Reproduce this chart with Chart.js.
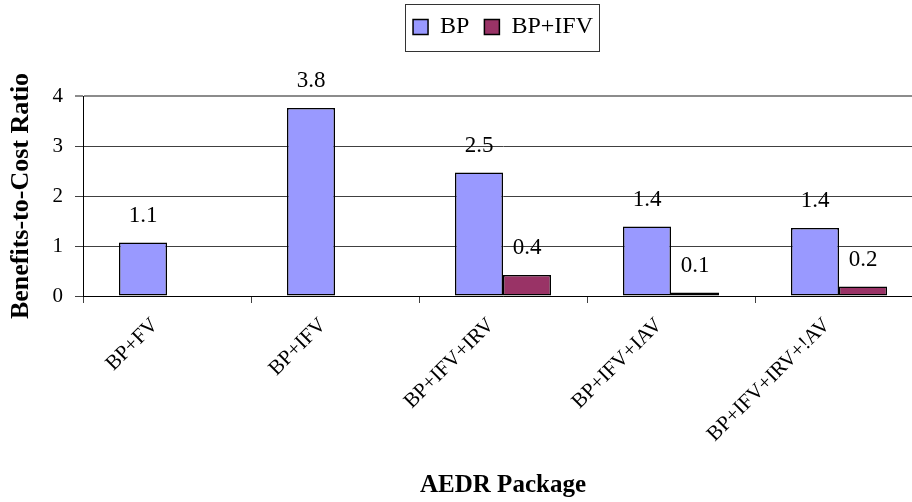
<!DOCTYPE html>
<html>
<head>
<meta charset="utf-8">
<title>Benefits-to-Cost Ratio by AEDR Package</title>
<script src="https://cdn.jsdelivr.net/npm/chart.js@4/dist/chart.umd.min.js"></script>
<style>
  html, body { margin: 0; padding: 0; background: #ffffff; overflow: hidden; }
  #wrap { position: relative; width: 923px; height: 502px; }
</style>
</head>
<body>
<div id="wrap"><canvas id="chart"></canvas></div>
<script>
// AEDR packages along the x axis
const packages = ['BP+FV', 'BP+IFV', 'BP+IFV+IRV', 'BP+IFV+IAV', 'BP+IFV+IRV+!AV'];

// Benefits-to-cost ratios for each baseline
const bpRatios = [1.07, 3.76, 2.47, 1.39, 1.36];
const bpIfvRatios = [null, null, 0.42, 0.07, 0.19];

// Value axis ticks
const ratioTicks = [0, 1, 2, 3, 4];

const seriesNames = ['BP', 'BP+IFV'];

const SERIF = "'Liberation Serif', 'Times New Roman', serif";

// Writes each bar's ratio above it, rounded to one decimal
const valueLabels = {
  id: 'valueLabels',
  afterDatasetsDraw(chart) {
    const ctx = chart.ctx;
    ctx.save();
    ctx.font = '23px ' + SERIF;
    ctx.fillStyle = '#000000';
    ctx.textAlign = 'center';
    ctx.textBaseline = 'middle';
    chart.data.datasets.forEach((ds, di) => {
      const meta = chart.getDatasetMeta(di);
      meta.data.forEach((bar, i) => {
        const v = ds.data[i];
        if (v === null || v === undefined) return;
        ctx.fillText(v.toFixed(1), bar.x, bar.y - 27);
      });
    });
    ctx.restore();
  }
};

// Frames the legend entries with a thin box
const legendFrame = {
  id: 'legendFrame',
  afterDraw(chart) {
    const boxes = chart.legend && chart.legend.legendHitBoxes;
    if (!boxes || !boxes.length) return;
    let left = Infinity, right = -Infinity, mid = 0;
    boxes.forEach(b => {
      left = Math.min(left, b.left);
      right = Math.max(right, b.left + b.width);
      mid = b.top + b.height / 2;
    });
    const ctx = chart.ctx;
    ctx.save();
    ctx.strokeStyle = '#333333';
    ctx.lineWidth = 1;
    ctx.strokeRect(Math.round(left - 8) + 0.5, Math.round(mid - 23.5) + 0.5,
                   Math.round(right - left + 14), 47);
    ctx.restore();
  }
};

new Chart(document.getElementById('chart'), {
  type: 'bar',
  data: {
    labels: packages,
    datasets: [
      {
        label: seriesNames[0],
        data: bpRatios,
        backgroundColor: '#9999FF',
        borderColor: '#000000',
        borderWidth: 1.5,
        borderSkipped: false,
        xAxisID: 'x',
        yAxisID: 'y'
      },
      {
        label: seriesNames[1],
        data: bpIfvRatios,
        backgroundColor: '#993366',
        borderColor: '#000000',
        borderWidth: 1.5,
        borderSkipped: false,
        xAxisID: 'x',
        yAxisID: 'y'
      }
    ]
  },
  options: {
    responsive: true,
    maintainAspectRatio: false,
    animation: false,
    datasets: {
      bar: { categoryPercentage: 96 / 168, barPercentage: 1 }
    },
    layout: { padding: 0 },
    plugins: {
      tooltip: { enabled: false },
      legend: {
        display: true,
        position: 'top',
        fullSize: false,
        labels: {
          font: { family: SERIF, size: 24 },
          color: '#000000',
          boxWidth: 15,
          boxHeight: 15,
          padding: 15
        }
      }
    },
    scales: {
      gap: {
        type: 'linear',
        position: 'top',
        display: true,
        grid: { display: false, drawTicks: false },
        border: { display: false },
        ticks: { display: false },
        afterFit(scale) { scale.height = 47; }
      },
      x: {
        type: 'category',
        position: 'bottom',
        offset: true,
        grid: {
          offset: true,
          drawOnChartArea: false,
          drawTicks: true,
          tickLength: 7,
          color: '#404040',
          lineWidth: 1
        },
        border: { display: true, color: '#000000', width: 1 },
        ticks: {
          autoSkip: false,
          minRotation: 45,
          maxRotation: 45,
          padding: 10,
          labelOffset: -12,
          color: '#000000',
          font: { family: SERIF, size: 21 }
        },
        title: {
          display: true,
          text: 'AEDR Package',
          color: '#000000',
          font: { family: SERIF, size: 25, weight: 'bold' },
          padding: { top: 0, bottom: 1 }
        },
        afterFit(scale) { scale.height = 206; }
      },
      y: {
        type: 'linear',
        position: 'left',
        min: ratioTicks[0],
        max: ratioTicks[ratioTicks.length - 1],
        afterBuildTicks(scale) { scale.ticks = ratioTicks.map(v => ({ value: v })); },
        grid: {
          drawTicks: true,
          tickLength: 8,
          color: (c) => (c.tick && c.tick.value === 4 ? '#8c8c8c' : '#404040'),
          lineWidth: (c) => (c.tick && c.tick.value === 4 ? 2 : 1)
        },
        border: { display: true, color: '#000000', width: 1 },
        ticks: {
          padding: 12,
          color: '#000000',
          font: { family: SERIF, size: 21 },
          callback: (v) => String(v)
        },
        title: {
          display: true,
          text: 'Benefits-to-Cost Ratio',
          color: '#000000',
          font: { family: SERIF, size: 26, weight: 'bold' },
          padding: { top: 6, bottom: 0 }
        },
        afterFit(scale) { scale.width = 83; }
      }
    }
  },
  plugins: [valueLabels, legendFrame]
});
</script>
</body>
</html>
